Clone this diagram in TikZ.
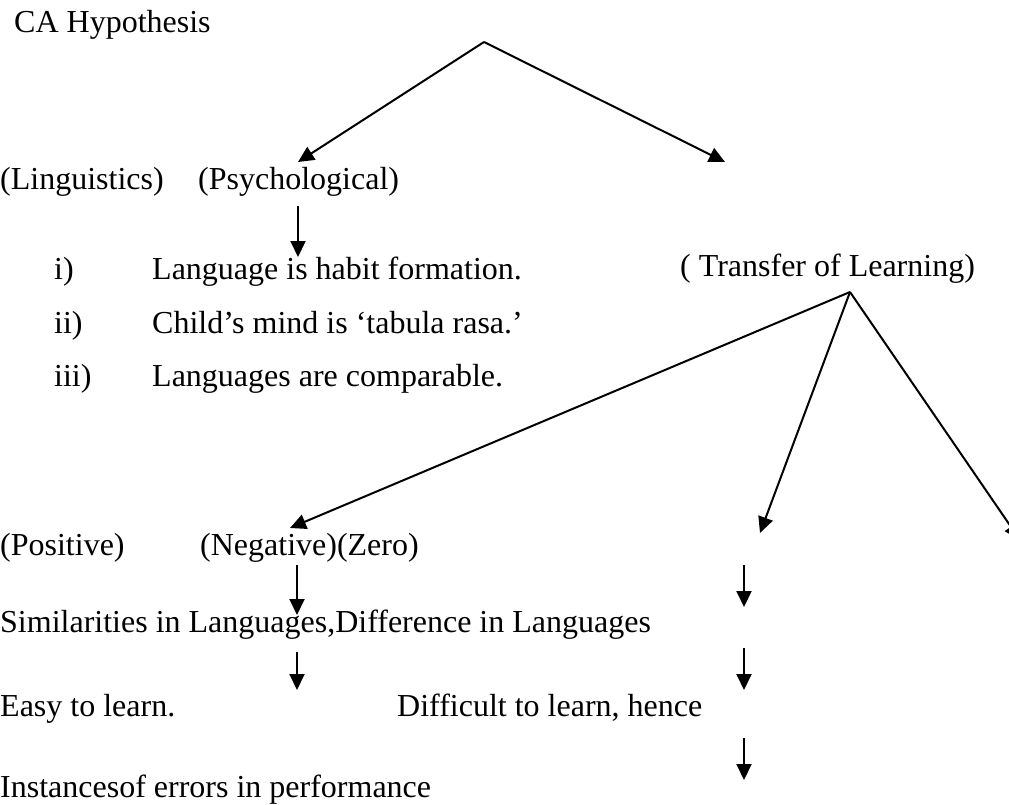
\documentclass[tikz,border=0pt]{standalone}
\usepackage{fontspec}
\setmainfont{Liberation Serif}
\usetikzlibrary{arrows.meta}
\begin{document}
\begin{tikzpicture}[x=1pt,y=-1pt,
  txt/.style={anchor=base west, inner sep=0pt, font=\fontsize{32}{38}\selectfont},
  arr/.style={line width=2pt, -{Triangle[length=16pt,width=15pt]}}]
\useasboundingbox (0,0) rectangle (1009,805);

% title and first split
\node[txt] (title) at (14,33) {CA Hypothesis};
\coordinate (top) at (484,42);
\coordinate (topL) at (298,162);
\coordinate (topR) at (725,162);
\draw[arr] (top) -- (topL);
\draw[arr] (top) -- (topR);

\node[txt] (ling) at (0,190) {(Linguistics)};
\node[txt] (psy) at (198,190) {(Psychological)};

% psychological assumptions
\coordinate (psyA) at (298,206);
\coordinate (psyB) at (298,257);
\draw[arr] (psyA) -- (psyB);
\node[txt] (n1) at (54,279) {i)};
\node[txt] (t1) at (152,279) {Language is habit formation.};
\node[txt] (n2) at (54,333) {ii)};
\node[txt] (t2) at (152,333) {Child’s mind is ‘tabula rasa.’};
\node[txt] (n3) at (54,386) {iii)};
\node[txt] (t3) at (152,386) {Languages are comparable.};

% transfer of learning
\node[txt] (tol) at (680,276) {( Transfer of Learning)};
\coordinate (tolA) at (850,292);
\coordinate (negTip) at (290,528);
\coordinate (zeroTip) at (760,533);
\coordinate (farTip) at (1020,540);
\draw[arr] (tolA) -- (negTip);
\draw[arr] (tolA) -- (zeroTip);
\draw[arr] (tolA) -- (farTip);

\node[txt] (pos) at (0,555) {(Positive)};
\node[txt] (neg) at (200,555) {(Negative)(Zero)};

% left chain
\coordinate (a1s) at (297,565);
\coordinate (a1e) at (297,615);
\draw[arr] (a1s) -- (a1e);
\node[txt] (sim) at (0,632) {Similarities in Languages,Difference in Languages};
\coordinate (a2s) at (297,652);
\coordinate (a2e) at (297,690);
\draw[arr] (a2s) -- (a2e);
\node[txt] (easy) at (0,716) {Easy to learn.};
\node[txt] (diff) at (397,716) {Difficult to learn, hence};
\node[txt] (inst) at (0,797) {Instancesof errors in performance};

% right chain
\coordinate (r1s) at (744,565);
\coordinate (r1e) at (744,607);
\coordinate (r2s) at (744,648);
\coordinate (r2e) at (744,690);
\coordinate (r3s) at (744,738);
\coordinate (r3e) at (744,780);
\draw[arr] (r1s) -- (r1e);
\draw[arr] (r2s) -- (r2e);
\draw[arr] (r3s) -- (r3e);
\end{tikzpicture}
\end{document}
